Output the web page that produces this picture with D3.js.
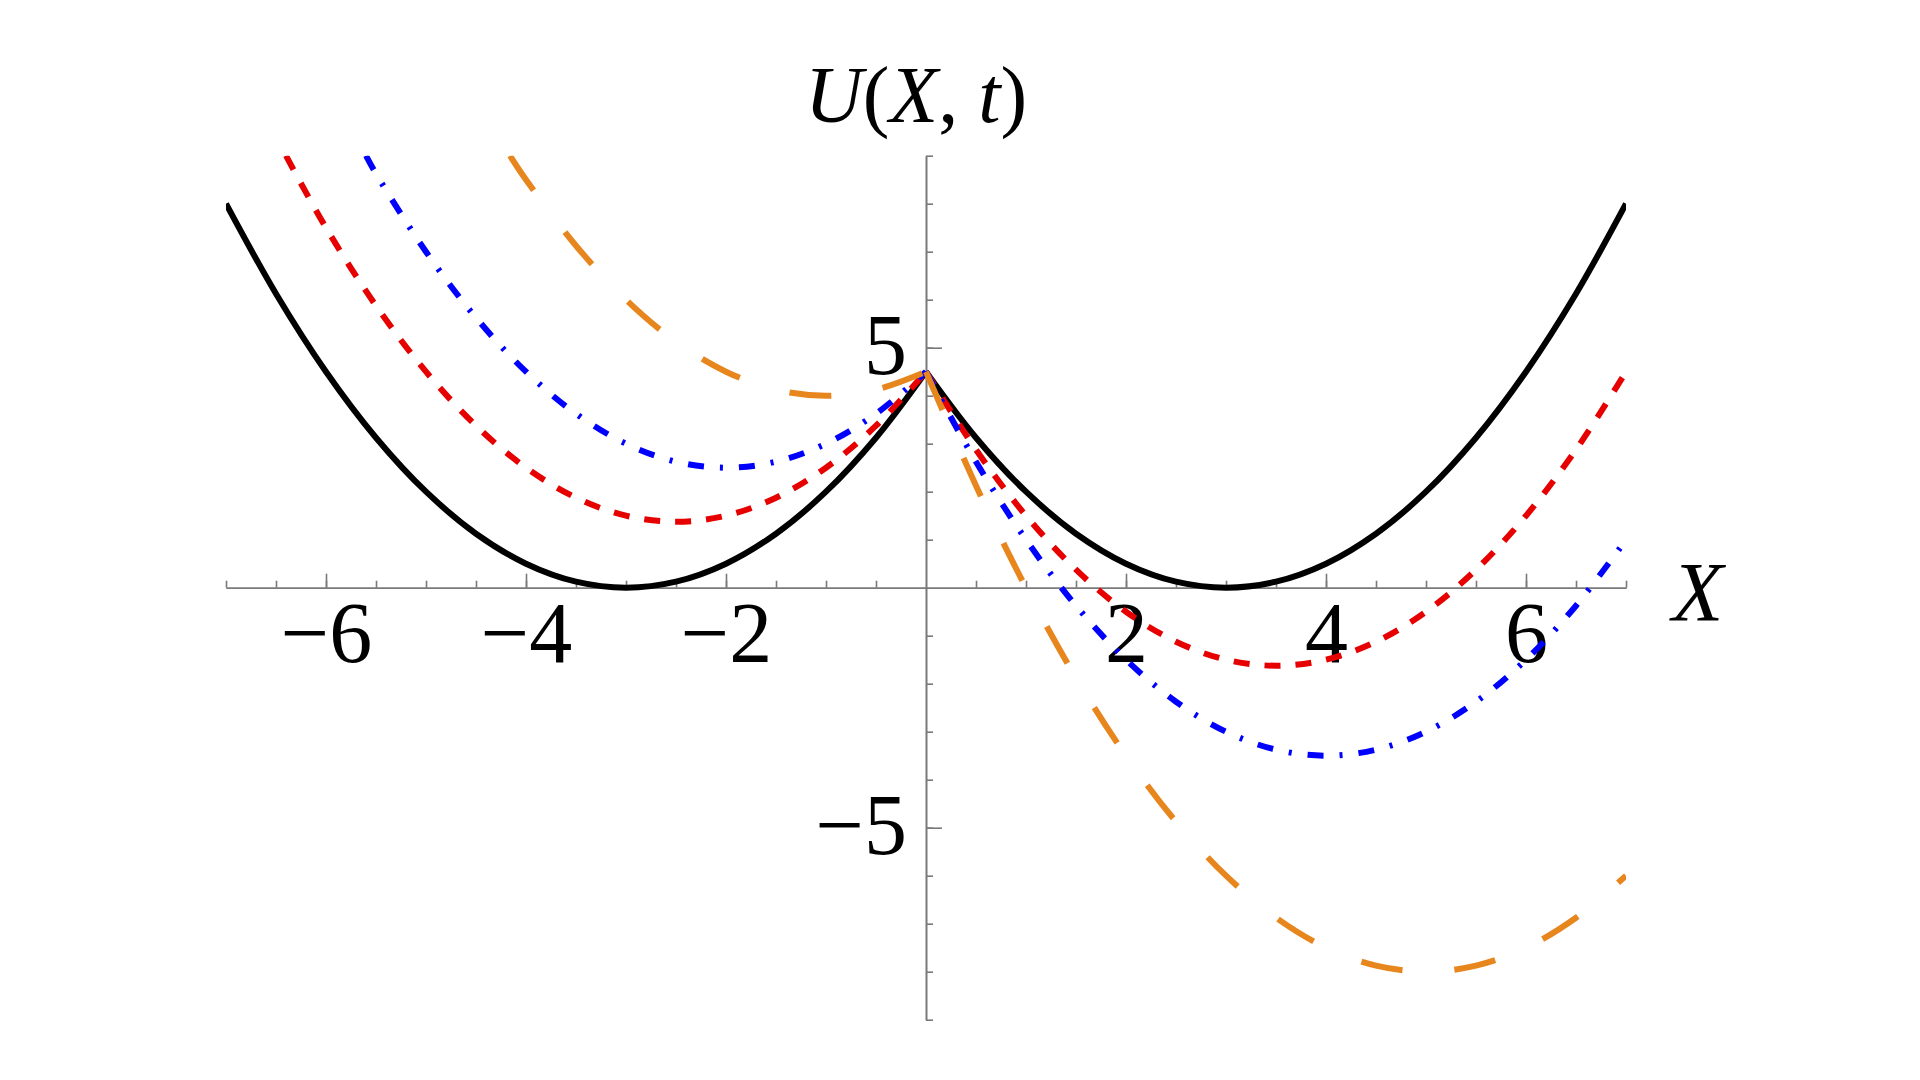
<!DOCTYPE html>
<html>
<head>
<meta charset="utf-8">
<script src="https://cdn.jsdelivr.net/npm/d3@7"></script>
<style>
  html, body { margin: 0; padding: 0; background: #fff; }
  svg { display: block; }
</style>
</head>
<body>
<script>
// ---- data ----
const xDomain = [-7, 7];
const yDomain = [-9, 9];
const xMajorTicks = [-6, -4, -2, 2, 4, 6];
const xMinorTicks = [-7,-6.5,-6,-5.5,-5,-4.5,-4,-3.5,-3,-2.5,-2,-1.5,-1,-0.5,0.5,1,1.5,2,2.5,3,3.5,4,4.5,5,5.5,6,6.5,7];
const yMajorTicks = [-5, 5];
const yMinorTicks = [-9,-8,-7,-6,-5,-4,-3,-2,-1,1,2,3,4,5,6,7,8,9];

// black solid curve
const blackCurve = [[-7,8],[-6.5,6.125],[-6,4.5],[-5.5,3.125],[-5,2],[-4.5,1.125],[-4,0.5],[-3.5,0.125],[-3,0],[-2.5,0.125],[-2,0.5],[-1.5,1.125],[-1,2],[-0.5,3.125],[0,4.5],
  [0.5,3.125],[1,2],[1.5,1.125],[2,0.5],[2.5,0.125],[3,0],[3.5,0.125],[4,0.5],[4.5,1.125],[5,2],[5.5,3.125],[6,4.5],[6.5,6.125],[7,8]];
// red short-dashed curve
const redCurve = [[-6.4,9],[-6,7.5],[-5.5,5.875],[-5,4.5],[-4.5,3.375],[-4,2.5],[-3.5,1.875],[-3,1.5],[-2.5,1.375],[-2,1.5],[-1.5,1.875],[-1,2.5],[-0.5,3.375],[0,4.5],
  [0.5,2.875],[1,1.5],[1.5,0.375],[2,-0.5],[2.5,-1.125],[3,-1.5],[3.5,-1.625],[4,-1.5],[4.5,-1.125],[5,-0.5],[5.5,0.375],[6,1.5],[6.5,2.875],[7,4.5]];
// blue dot-dashed curve
const blueCurve = [[-5.6,9],[-5.5,8.625],[-5,7],[-4.5,5.625],[-4,4.5],[-3.5,3.625],[-3,3],[-2.5,2.625],[-2,2.5],[-1.5,2.625],[-1,3],[-0.5,3.625],[0,4.5],
  [0.5,2.625],[1,1],[1.5,-0.375],[2,-1.5],[2.5,-2.375],[3,-3],[3.5,-3.375],[4,-3.5],[4.5,-3.375],[5,-3],[5.5,-2.375],[6,-1.5],[6.5,-0.375],[7,1]];
// orange long-dashed curve
const orangeCurve = [[-4.16,9],[-4,8.5],[-3.5,7.125],[-3,6],[-2.5,5.125],[-2,4.5],[-1.5,4.125],[-1,4],[-0.5,4.125],[0,4.5],
  [0.5,2.125],[1,0],[1.5,-1.875],[2,-3.5],[2.5,-4.875],[3,-6],[3.5,-6.875],[4,-7.5],[4.5,-7.875],[5,-8],[5.5,-7.875],[6,-7.5],[6.5,-6.875],[7,-6]];

const series = [
  { name: "black",  data: blackCurve,  color: "#000000", dash: null },
  { name: "red",    data: redCurve,    color: "#e60000", dash: "16,15" },
  { name: "blue",   data: blueCurve,   color: "#0000ff", dash: "16,16,3,16" },
  { name: "orange", data: orangeCurve, color: "#e8861e", dash: "42,52" }
];

// ---- layout ----
const W = 1920, H = 1080;
const svg = d3.select("body").append("svg").attr("width", W).attr("height", H);
svg.append("rect").attr("width", W).attr("height", H).attr("fill", "#fff");

const x = d3.scaleLinear().domain(xDomain).range([226, 1626]);
const y = d3.scaleLinear().domain(yDomain).range([1019.7, 155.7]);

const axisColor = "#7a7a7a";
const fontFam = "'Liberation Serif', 'Times New Roman', serif";

svg.append("clipPath").attr("id", "plotclip").append("rect")
  .attr("x", x(xDomain[0])).attr("y", y(yDomain[1]))
  .attr("width", x(xDomain[1]) - x(xDomain[0])).attr("height", y(yDomain[0]) - y(yDomain[1]));

// X axis (through y=0)
const gx = svg.append("g").attr("transform", `translate(0,${y(0)})`);
gx.append("g").call(d3.axisBottom(x).tickValues(xMinorTicks).tickSizeInner(-7).tickSizeOuter(0).tickFormat(""));
gx.append("g").call(d3.axisBottom(x).tickValues(xMajorTicks).tickSizeInner(-14).tickSizeOuter(0)
  .tickPadding(21).tickFormat(d => (d < 0 ? "\u2212" : "") + Math.abs(d)));

// Y axis (through x=0)
const gy = svg.append("g").attr("transform", `translate(${x(0)},0)`);
gy.append("g").call(d3.axisLeft(y).tickValues(yMinorTicks).tickSizeInner(-7).tickSizeOuter(0).tickFormat(""));
gy.append("g").call(d3.axisLeft(y).tickValues(yMajorTicks).tickSizeInner(-16).tickSizeOuter(0)
  .tickPadding(19).tickFormat(d => (d < 0 ? "\u2212" : "") + Math.abs(d)));

svg.selectAll(".domain, .tick line").attr("stroke", axisColor).attr("stroke-width", 1.6);
svg.selectAll(".tick text")
  .attr("font-family", fontFam).attr("font-size", 86).attr("fill", "#000");
gx.selectAll(".tick text").attr("dy", "0.62em");
gy.selectAll(".tick text").attr("dy", "0.30em");

// ---- curves ----
const line = d3.line().x(d => x(d[0])).y(d => y(d[1])).curve(d3.curveCatmullRom);
const gc = svg.append("g").attr("clip-path", "url(#plotclip)");
series.forEach(s => {
  const parts = [s.data.filter(d => d[0] <= 0), s.data.filter(d => d[0] >= 0)];
  parts.forEach(p => {
    gc.append("path").datum(p)
      .attr("d", line)
      .attr("fill", "none")
      .attr("stroke", s.color)
      .attr("stroke-width", 6)
      .attr("stroke-dasharray", s.dash)
      .attr("stroke-linejoin", "round");
  });
});

// ---- axis labels ----
const title = svg.append("text")
  .attr("x", 916).attr("y", 122)
  .attr("text-anchor", "middle")
  .attr("font-family", fontFam).attr("font-size", 80).attr("fill", "#000");
title.append("tspan").attr("font-style", "italic").text("U");
title.append("tspan").text("(");
title.append("tspan").attr("font-style", "italic").text("X");
title.append("tspan").text(", ");
title.append("tspan").attr("font-style", "italic").text("t");
title.append("tspan").text(")");

svg.append("text")
  .attr("x", 1672).attr("y", 621)
  .attr("font-family", fontFam).attr("font-size", 84).attr("font-style", "italic").attr("fill", "#000")
  .text("X");
</script>
</body>
</html>
